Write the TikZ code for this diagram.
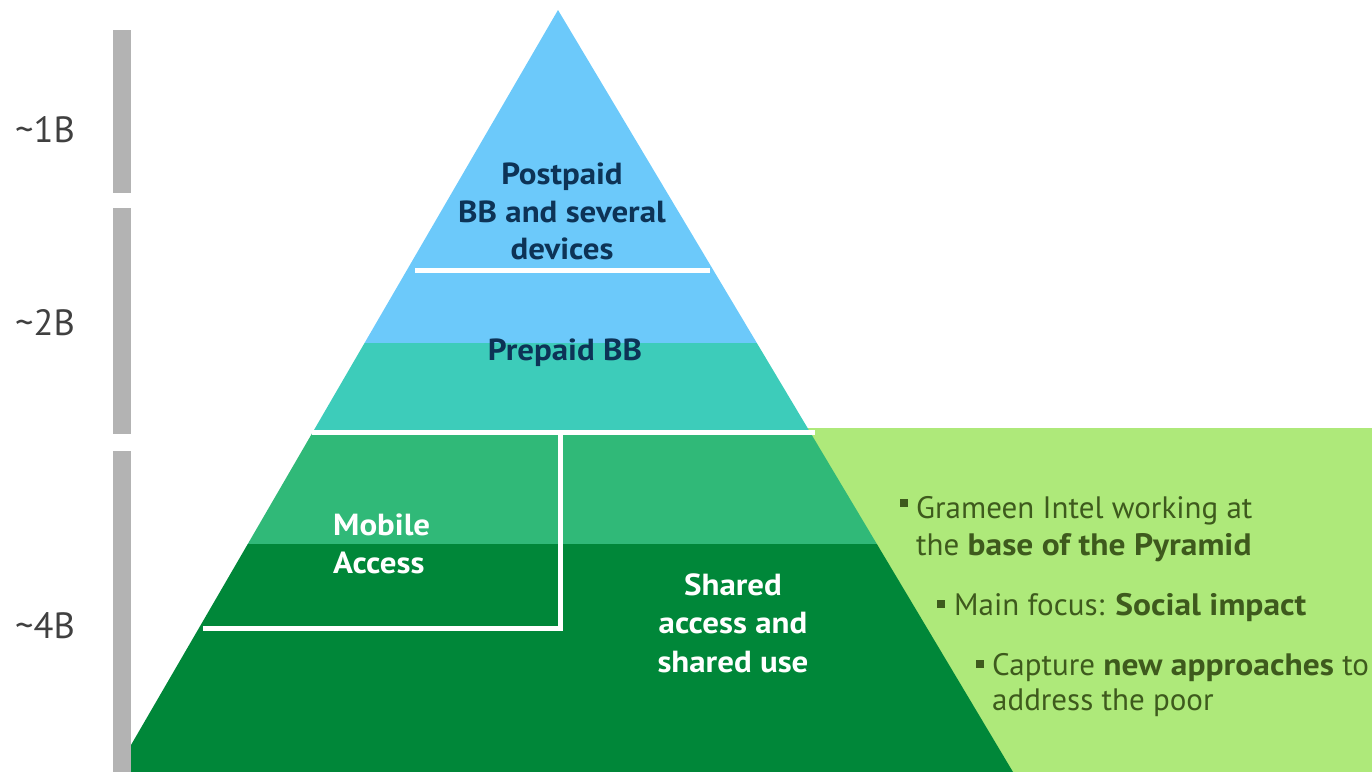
\documentclass[tikz,border=0pt]{standalone}
\usepackage{fontspec}
\setmainfont{PT Sans}[BoldFeatures={FakeStretch=1.08}]
\definecolor{skyb}{HTML}{6CC9FA}
\definecolor{tealb}{HTML}{3DCCBA}
\definecolor{midg}{HTML}{30B978}
\definecolor{darkg}{HTML}{008739}
\definecolor{lightg}{HTML}{AEE97A}
\definecolor{barg}{HTML}{B3B3B3}
\definecolor{navyt}{HTML}{0D3356}
\definecolor{olivet}{HTML}{3E5A1D}
\definecolor{grayt}{HTML}{404040}
\tikzset{
  lvl/.style={font=\fontsize{30.5}{36}\selectfont\bfseries, inner sep=0pt, anchor=base},
  navy/.style={lvl, text=navyt},
  wht/.style={lvl, text=white},
  side/.style={font=\fontsize{36.5}{42}\selectfont, text=grayt, inner sep=0pt, anchor=base west},
  bul/.style={font=\fontsize{31}{36}\selectfont, text=olivet, inner sep=0pt, anchor=base west},
  sq/.style={fill=olivet, draw=none, minimum size=8pt, inner sep=0pt},
  bar/.style={fill=barg, draw=none},
  wline/.style={draw=white, line width=5pt}
}
\begin{document}
\begin{tikzpicture}[x=1pt,y=-1pt]
\useasboundingbox (0,0) rectangle (1372,772);
% gray bars
\fill[bar] (113,30) rectangle (131,193);
\fill[bar] (113,208) rectangle (131,434);
\fill[bar] (113,451) rectangle (131,772);
% light green panel
\fill[lightg] (805,428) rectangle (1372,772);
% pyramid
\begin{scope}
\clip (558,10) -- (131,745) -- (131,772) -- (1013,772) -- cycle;
\fill[skyb] (100,0) rectangle (1100,343);
\fill[tealb] (100,343) rectangle (1100,431);
\fill[midg] (100,431) rectangle (1100,544);
\fill[darkg] (100,544) rectangle (1100,772);
\end{scope}
% white lines
\coordinate (t1) at (415,270); \coordinate (t2) at (710,270);
\coordinate (m1) at (312,432); \coordinate (m2) at (815,432);
\coordinate (v1) at (560,432); \coordinate (v2) at (560,630.5);
\coordinate (b1) at (203,628); \coordinate (b2) at (562.5,628);
\draw[wline] (t1) -- (t2);
\draw[wline] (m1) -- (m2);
\draw[wline] (v1) -- (v2);
\draw[wline] (b1) -- (b2);
% side labels
\node[side] (s1) at (15,142) {\textasciitilde1B};
\node[side] (s2) at (15,335) {\textasciitilde2B};
\node[side] (s4) at (15,638) {\textasciitilde4B};
% pyramid labels
\node[navy] (p1) at (562,184) {Postpaid};
\node[navy] (p2) at (562,222) {BB and several};
\node[navy] (p3) at (562,259) {devices};
\node[navy] (pr) at (565,360) {Prepaid BB};
\node[wht, anchor=base west] (ma1) at (333,535) {Mobile};
\node[wht, anchor=base west] (ma2) at (333,573) {Access};
\node[wht] (sh1) at (733,595) {Shared};
\node[wht] (sh2) at (733,633) {access and};
\node[wht] (sh3) at (733,672) {shared use};
% bullets
\node[sq] (q1) at (903.5,503) {};
\node[sq] (q2) at (940.5,603.5) {};
\node[sq] (q3) at (980,663.5) {};
\node[bul] (g1) at (916,518) {Grameen Intel working at};
\node[bul] (g2) at (916,555) {the \textbf{base of the Pyramid}};
\node[bul] (g3) at (954,615) {Main focus: \textbf{Social impact}};
\node[bul] (g4) at (992,675) {Capture \textbf{new approaches} to};
\node[bul] (g5) at (992,710) {address the poor};
\end{tikzpicture}
\end{document}
